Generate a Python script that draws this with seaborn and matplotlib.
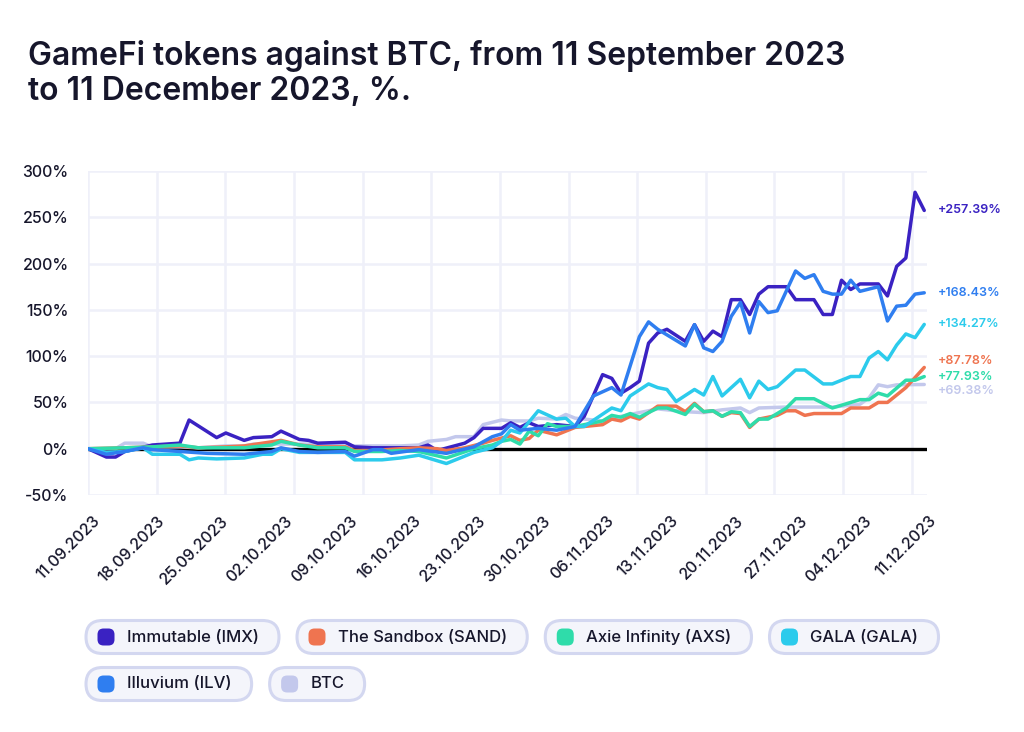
import numpy as np
import pandas as pd
import matplotlib
matplotlib.use("Agg")
import matplotlib.pyplot as plt
import matplotlib.transforms as mtransforms
from matplotlib.patches import FancyBboxPatch
import seaborn as sns

# ---------------- data ----------------
START = "2023-09-11"
tick_labels = ["11.09.2023", "18.09.2023", "25.09.2023", "02.10.2023", "09.10.2023",
               "16.10.2023", "23.10.2023", "30.10.2023", "06.11.2023", "13.11.2023",
               "20.11.2023", "27.11.2023", "04.12.2023", "11.12.2023"]

series_names = ["Immutable (IMX)", "The Sandbox (SAND)", "Axie Infinity (AXS)",
                "GALA (GALA)", "Illuvium (ILV)", "BTC"]
colors = ["#3a22c2", "#ef7450", "#2fdcaa", "#2ccbec", "#2f7ef0", "#c3c8ec"]

imx_days = [0, 2, 3, 4, 7, 10, 11, 14, 15, 17, 18, 20, 21, 23, 24, 25, 28, 29, 31, 36, 37, 38,
            41, 42, 43, 45, 46, 47, 48, 49, 51, 53, 54, 56, 57, 58, 59, 60, 61, 62, 63, 65, 66,
            67, 68, 69, 70, 71, 72, 73, 74, 76, 77, 79, 80, 81, 82, 83, 84, 86, 87, 88, 89, 90, 91]
imx_vals = [0, -9, -9, -3, 4, 6, 31, 12, 17, 9, 12, 13, 19, 10, 9, 6, 7, 2, 1, 1, 4, -2,
            6, 12, 22, 22, 28, 23, 28, 24, 26, 24, 35, 80, 76, 60, 66, 73, 114, 125, 129, 116, 134,
            116, 127, 121, 161, 161, 145, 167, 175, 175, 161, 161, 145, 145, 182, 172, 178, 178, 165,
            197, 206, 277, 257.39]

sand_days = [0, 4, 7, 10, 12, 15, 17, 21, 23, 25, 28, 29, 31, 34, 36, 38, 39, 41, 43, 44, 46, 47,
             48, 49, 51, 53, 56, 57, 58, 59, 60, 62, 64, 65, 66, 67, 68, 69, 70, 71, 72, 73, 75,
             76, 77, 78, 79, 82, 83, 85, 86, 87, 89, 91]
sand_vals = [0, 1, 2, 3, 1, 2, 3, 9, 4, 2, 2, -2, -2, 0, 1, 0, -2, 1, 6, 9, 14, 9,
             11, 20, 15, 23, 26, 32, 30, 35, 32, 46, 46, 40, 49, 40, 41, 35, 39, 38, 23, 32, 36,
             41, 41, 36, 38, 38, 44, 44, 50, 50, 66, 87.78]

axs_days = [0, 4, 7, 10, 12, 17, 20, 21, 23, 25, 28, 29, 32, 34, 36, 39, 42, 44, 45, 46, 47, 48,
            49, 50, 51, 53, 56, 57, 58, 59, 60, 62, 63, 65, 66, 67, 68, 69, 70, 71, 72, 73, 74,
            76, 77, 79, 81, 83, 84, 85, 86, 87, 89, 90, 91]
axs_vals = [0, 1, 2, 4, 1, 1, 4, 8, 4, 1, 1, -3, -3, -2, -3, -10, 0, 4, 8, 10, 5, 19,
            14, 27, 24, 24, 30, 36, 34, 38, 34, 44, 44, 37, 48, 40, 41, 35, 40, 39, 24, 32, 32,
            44, 54, 54, 44, 50, 53, 53, 60, 57, 74, 74, 77.93]

gala_days = [0, 2, 4, 6, 7, 10, 11, 12, 14, 17, 19, 20, 21, 23, 28, 29, 32, 34, 36, 39, 42, 44,
             45, 46, 47, 49, 51, 52, 53, 54, 57, 58, 59, 61, 62, 63, 64, 66, 67, 68, 69, 71, 72,
             73, 74, 75, 77, 78, 80, 81, 83, 84, 85, 86, 87, 88, 89, 90, 91]
gala_vals = [0, -4, -3, 1, -6, -6, -12, -10, -11, -10, -6, -6, 0, -4, -4, -12, -12, -10, -7, -16, -4, 1,
             8, 20, 17, 41, 32, 33, 24, 24, 44, 41, 57, 70, 66, 64, 51, 64, 58, 78, 57, 75, 55,
             73, 64, 67, 85, 85, 70, 70, 78, 78, 98, 105, 96, 112, 124, 120, 134.27]

ilv_days = [0, 2, 4, 6, 7, 10, 13, 17, 20, 21, 23, 25, 28, 29, 31, 32, 33, 36, 39, 42, 44, 45,
            46, 47, 49, 51, 53, 55, 57, 58, 60, 61, 62, 65, 66, 67, 68, 69, 70, 71, 72, 73, 74,
            75, 77, 78, 79, 80, 81, 82, 83, 84, 86, 87, 88, 89, 90, 91]
ilv_vals = [0, -6, -3, 1, -1, -3, -5, -6, -3, 1, -3, -4, -3, -8, -1, -1, -5, -1, -5, 2, 13, 16,
            26, 20, 22, 20, 24, 57, 66, 58, 121, 137, 129, 111, 134, 109, 105, 116, 143, 158, 125, 159, 147,
            149, 192, 184, 188, 170, 167, 167, 182, 170, 175, 138, 154, 155, 167, 168.43]

btc_days = [0, 3, 4, 6, 7, 10, 12, 15, 17, 18, 21, 25, 28, 29, 34, 36, 37, 39, 40, 42, 43, 45,
            46, 48, 49, 51, 52, 53, 56, 58, 60, 62, 65, 67, 69, 71, 72, 73, 76, 81, 84, 85, 86,
            87, 88, 91]
btc_vals = [0, 0, 6, 6, 2, 2, 1, 3, 3, 5, 5, 5, 4, 3, 3, 4, 8, 10, 13, 13, 26, 31,
            30, 30, 33, 32, 37, 33, 30, 35, 39, 43, 40, 39, 42, 44, 39, 44, 45, 45, 48, 55, 69,
            67, 69, 69.38]

final_labels = ["+257.39%", "+87.78%", "+77.93%", "+134.27%", "+168.43%", "+69.38%"]

all_days = [imx_days, sand_days, axs_days, gala_days, ilv_days, btc_days]
all_vals = [imx_vals, sand_vals, axs_vals, gala_vals, ilv_vals, btc_vals]

start = pd.Timestamp(START)
frames = []
for name, d, v in zip(series_names, all_days, all_vals):
    frames.append(pd.DataFrame({"date": start + pd.to_timedelta(d, unit="D"),
                                "value": v, "token": name}))
df = pd.concat(frames, ignore_index=True)

# ---------------- style ----------------
sns.set_theme(style="white")
plt.rcParams["font.family"] = ["Inter", "DejaVu Sans"]
TEXT = "#16162b"
GRID = "#eff0f9"

fig = plt.figure(figsize=(10.24, 7.32), dpi=100)
W, H = 1024, 732
ax = fig.add_axes([88 / W, 1 - 495 / H, (927 - 88) / W, (495 - 171) / H])

palette = dict(zip(series_names, colors))
draw_order = ["BTC", "Immutable (IMX)", "The Sandbox (SAND)", "Axie Infinity (AXS)",
              "GALA (GALA)", "Illuvium (ILV)"]
sns.lineplot(data=df, x="date", y="value", hue="token", hue_order=draw_order,
             palette=palette, linewidth=2.5, legend=False, ax=ax, zorder=3)

# axes limits
ax.set_ylim(-50, 300)
ax.set_xlim(start, start + pd.Timedelta(days=91.3))

# horizontal grid
yt = list(range(-50, 301, 50))
ax.set_yticks(yt)
ax.set_yticklabels([f"{v}%" for v in yt])
for v in yt:
    if v != 0:
        ax.axhline(v, color=GRID, lw=1.8, zorder=0)

# vertical grid (independent of label ticks)
grid_step = 7.47
for i in range(13):
    ax.axvline(start + pd.Timedelta(days=grid_step * i), color=GRID, lw=1.8, zorder=0)

# zero line
ax.axhline(0, color="black", lw=2.4, zorder=2)

# x ticks
tick_dates = [start + pd.Timedelta(days=7 * i) for i in range(len(tick_labels))]
ax.set_xticks(tick_dates)
ax.set_xticklabels(tick_labels, rotation=45, ha="right", va="top", rotation_mode="anchor")
ax.tick_params(axis="x", length=0, pad=13, labelsize=11.5, labelcolor=TEXT)
ax.tick_params(axis="y", length=0, pad=14, labelsize=11.5, labelcolor=TEXT)
for lab in ax.get_xticklabels():
    lab.set_transform(lab.get_transform() + mtransforms.ScaledTranslation(4 / 100, 0, fig.dpi_scale_trans))
for lab in ax.get_yticklabels() + ax.get_xticklabels():
    lab.set_fontweight("medium")

for s in ax.spines.values():
    s.set_visible(False)
ax.set_xlabel("")
ax.set_ylabel("")
ax.grid(False)

# end labels
label_offsets = [0, 6, 0, 0, 0, -7]
for name, d, v, txt, col, off in zip(series_names, all_days, all_vals, final_labels, colors, label_offsets):
    ax.annotate(txt, xy=(start + pd.Timedelta(days=d[-1]), v[-1]), xytext=(14, off),
                textcoords="offset pixels", ha="left", va="center", fontsize=9,
                fontweight="semibold", color=col, annotation_clip=False)

# title
fig.text(28 / W, 1 - 40 / H, "GameFi tokens against BTC, from 11 September 2023\nto 11 December 2023, %.",
         ha="left", va="top", fontsize=23, fontweight="semibold", color=TEXT, linespacing=1.18)

# pill legend
renderer = fig.canvas.get_renderer()
ident = mtransforms.IdentityTransform()
rows = [series_names[:4], series_names[4:]]
row_centers = [H - 637, H - 684]
pill_h = 33
for row, yc in zip(rows, row_centers):
    x = 86
    for name in row:
        col = palette[name]
        t = fig.text(0, 0, name, fontsize=12, color=TEXT, fontweight="medium",
                     ha="left", va="center", transform=ident)
        tw = t.get_window_extent(renderer).width
        pw = tw + 61
        pill = FancyBboxPatch((x, yc - pill_h / 2), pw, pill_h,
                              boxstyle=f"round,pad=0,rounding_size={pill_h / 2}",
                              facecolor="#f4f5fb", edgecolor="#d3d7f0", lw=2.2,
                              transform=ident, figure=fig)
        fig.patches.append(pill)
        dot = FancyBboxPatch((x + 20 - 8.5, yc - 8.5), 17, 17,
                             boxstyle="round,pad=0,rounding_size=6",
                             facecolor=col, edgecolor="none", transform=ident, figure=fig)
        fig.patches.append(dot)
        t.set_position((x + 41, yc))
        t.set_zorder(5)
        x += pw + 18

fig.savefig("out.png", dpi=100, facecolor="white")
